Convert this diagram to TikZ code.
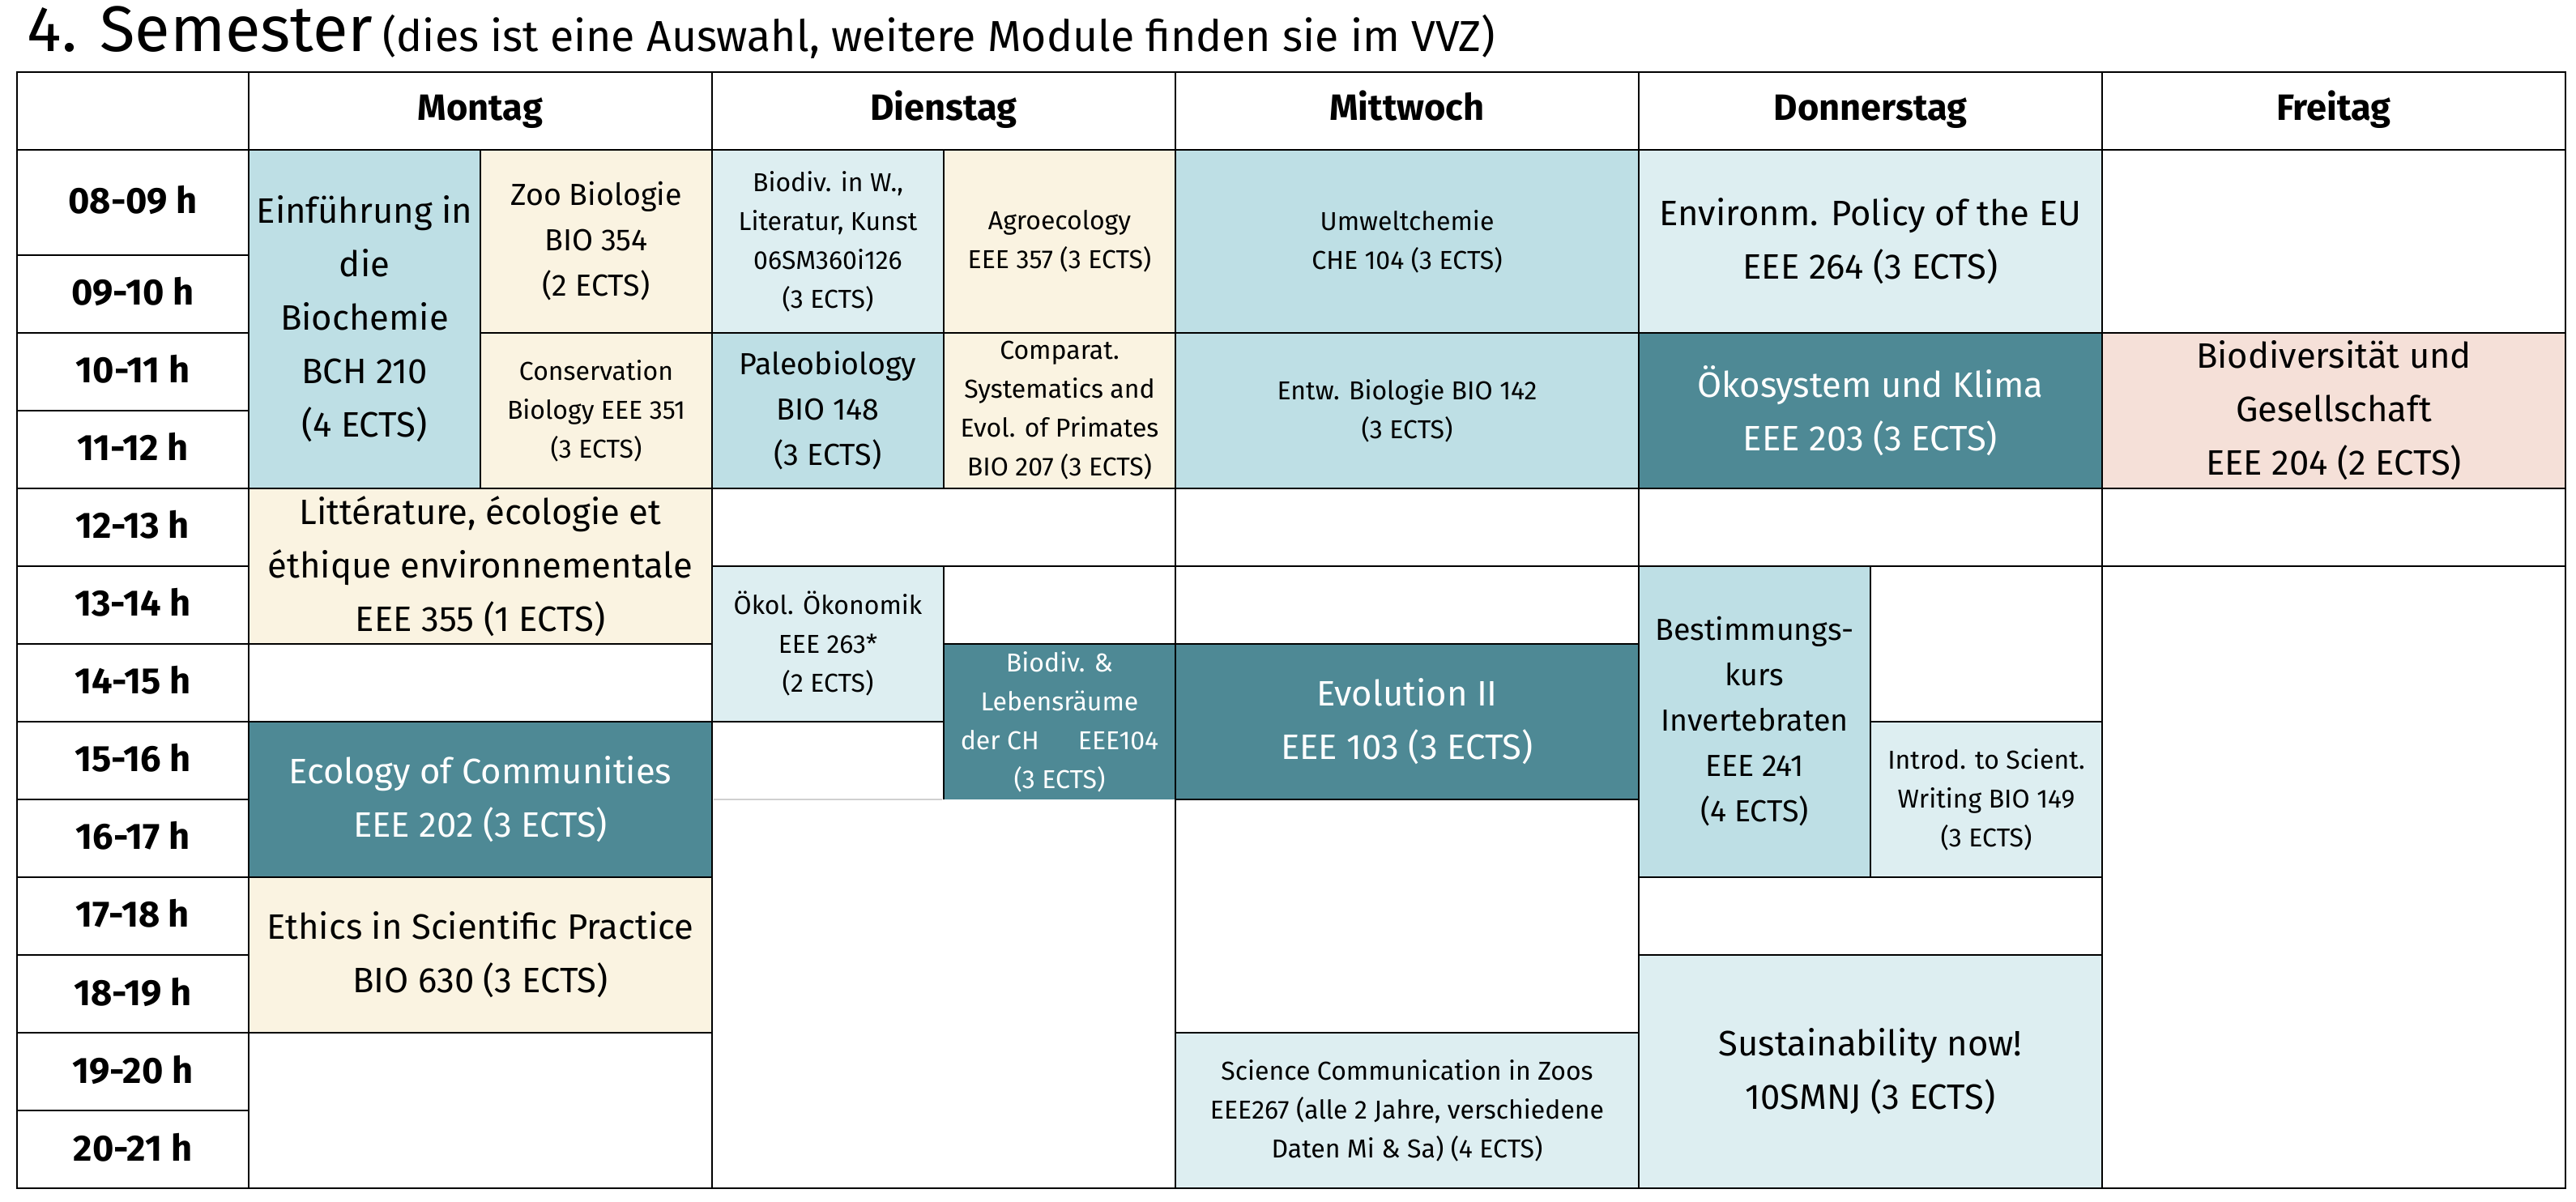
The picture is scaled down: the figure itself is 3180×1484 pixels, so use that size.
\documentclass[tikz,border=0pt]{standalone}
\usepackage{fontspec}
\setmainfont{Fira Sans}
\definecolor{lb}{HTML}{BEDFE5}
\definecolor{vlb}{HTML}{DDEEF1}
\definecolor{bg}{HTML}{FAF3E1}
\definecolor{teal}{HTML}{4E8995}
\definecolor{pk}{HTML}{F5E0D8}
\definecolor{gl}{HTML}{D0D0D0}
\newcommand\course[8]{\fill[#6] (#2,#3) rectangle (#4,#5);
  \node[#7] (#1) at ({(#2+#4)/2},{(#3+#5)/2}) {#8};}
\begin{document}
\begin{tikzpicture}[x=0.25pt,y=-0.25pt,
  txt/.style={align=center, inner sep=0pt, text=black},
  L/.style={txt, font=\fontsize{10.9pt}{16.5pt}\selectfont},
  M/.style={txt, font=\fontsize{9.4pt}{14pt}\selectfont},
  S/.style={txt, font=\fontsize{8pt}{12pt}\selectfont},
  W/.style={text=white},
  hd/.style={txt, anchor=base, font=\fontsize{11.3pt}{14pt}\selectfont\bfseries},
  grid/.style={draw=black, line width=0.65pt},
  faint/.style={draw=gl, line width=0.65pt}]
\useasboundingbox (0,0) rectangle (3180,1484);
\fill[white] (0,0) rectangle (3180,1484);
% title
\node[anchor=base west, inner sep=0pt] (title) at (33,64) {\fontsize{19.9pt}{24pt}\selectfont 4. Semester\hspace{3pt}\fontsize{13.4pt}{16pt}\selectfont(dies ist eine Auswahl, weitere Module finden sie im VVZ)};
% Montag
\course{einf}{307}{185}{593}{603}{lb}{L}{Einführung in\\die\\Biochemie\\BCH 210\\(4 ECTS)}
\course{zoo}{593}{185}{879}{411}{bg}{M}{Zoo Biologie\\BIO 354\\(2 ECTS)}
\course{cons}{593}{411}{879}{603}{bg}{S}{Conservation\\Biology EEE 351\\(3 ECTS)}
\course{litt}{307}{603}{879}{795}{bg}{L}{Littérature, écologie et\\éthique environnementale\\EEE 355 (1 ECTS)}
\course{ecol}{307}{891}{879}{1083}{teal}{L,W}{Ecology of Communities\\EEE 202 (3 ECTS)}
\course{ethics}{307}{1083}{879}{1275}{bg}{L}{Ethics in Scientific Practice\\BIO 630 (3 ECTS)}
% Dienstag
\course{biodivw}{879}{185}{1165}{411}{vlb}{S}{Biodiv. in W.,\\Literatur, Kunst\\06SM360i126\\(3 ECTS)}
\course{agro}{1165}{185}{1451}{411}{bg}{S}{Agroecology\\EEE 357 (3 ECTS)}
\course{paleo}{879}{411}{1165}{603}{lb}{M}{Paleobiology\\BIO 148\\(3 ECTS)}
\course{compar}{1165}{411}{1451}{603}{bg}{S}{Comparat.\\Systematics and\\Evol. of Primates\\BIO 207 (3 ECTS)}
\course{oekol}{879}{699}{1165}{891}{vlb}{S}{Ökol. Ökonomik\\EEE 263*\\(2 ECTS)}
\course{biodivch}{1165}{795}{1451}{987}{teal}{S,W}{Biodiv. \&\\Lebensräume\\der CH\hspace{12pt}EEE104\\(3 ECTS)}
% Mittwoch
\course{umwelt}{1451}{185}{2023}{411}{lb}{S}{Umweltchemie\\CHE 104 (3 ECTS)}
\course{entw}{1451}{411}{2023}{603}{lb}{S}{Entw. Biologie BIO 142\\(3 ECTS)}
\course{evol}{1451}{795}{2023}{987}{teal}{L,W}{Evolution II\\EEE 103 (3 ECTS)}
\course{scicomm}{1451}{1275}{2023}{1467}{vlb}{S}{Science Communication in Zoos\\EEE267 (alle 2 Jahre, verschiedene\\Daten Mi \& Sa) (4 ECTS)}
% Donnerstag
\course{envpol}{2023}{185}{2595}{411}{vlb}{L}{Environm. Policy of the EU\\EEE 264 (3 ECTS)}
\course{oeko}{2023}{411}{2595}{603}{teal}{L,W}{Ökosystem und Klima\\EEE 203 (3 ECTS)}
\course{bestim}{2023}{699}{2309}{1083}{lb}{M}{Bestimmungs-\\kurs\\Invertebraten\\EEE 241\\(4 ECTS)}
\course{introd}{2309}{891}{2595}{1083}{vlb}{S}{Introd. to Scient.\\Writing BIO 149\\(3 ECTS)}
\course{sust}{2023}{1179}{2595}{1467}{vlb}{L}{Sustainability now!\\10SMNJ (3 ECTS)}
% Freitag
\course{biodivges}{2595}{411}{3167}{603}{pk}{L}{Biodiversität und\\Gesellschaft\\EEE 204 (2 ECTS)}
% grid lines
\draw[grid] (21,89) rectangle (3167,1467);
\foreach \x in {307,879,1451,2023,2595} \draw[grid] (\x,89) -- (\x,1467);
\draw[grid] (21,185) -- (3167,185);
\foreach \y in {315,411,507,603,699,795,891,987,1083,1179,1275,1371} \draw[grid] (21,\y) -- (307,\y);
\draw[grid] (593,185) -- (593,603);
\draw[grid] (1165,185) -- (1165,603);
\draw[grid] (593,411) -- (3167,411);
\draw[grid] (307,603) -- (3167,603);
\draw[grid] (879,699) -- (3167,699);
\draw[grid] (307,795) -- (879,795);
\draw[grid] (1165,795) -- (2023,795);
\draw[grid] (1165,699) -- (1165,987);
\draw[grid] (307,891) -- (1165,891);
\draw[grid] (2309,891) -- (2595,891);
\draw[faint] (881,987) -- (1163,987);
\draw[grid] (1451,987) -- (2023,987);
\draw[grid] (307,1083) -- (879,1083);
\draw[grid] (2023,1083) -- (2595,1083);
\draw[grid] (2309,699) -- (2309,1083);
\draw[grid] (2023,1179) -- (2595,1179);
\draw[grid] (307,1275) -- (879,1275);
\draw[grid] (1451,1275) -- (2023,1275);
% headers
\node[hd] (hmo) at (593,149) {Montag};
\node[hd] (hdi) at (1165,149) {Dienstag};
\node[hd] (hmi) at (1737,149) {Mittwoch};
\node[hd] (hdo) at (2309,149) {Donnerstag};
\node[hd] (hfr) at (2881,149) {Freitag};
% times
\node[hd] (t08) at (164,264) {08-09 h};
\node[hd] (t09) at (164,377) {09-10 h};
\node[hd] (t10) at (164,473) {10-11 h};
\node[hd] (t11) at (164,569) {11-12 h};
\node[hd] (t12) at (164,665) {12-13 h};
\node[hd] (t13) at (164,761) {13-14 h};
\node[hd] (t14) at (164,857) {14-15 h};
\node[hd] (t15) at (164,953) {15-16 h};
\node[hd] (t16) at (164,1049) {16-17 h};
\node[hd] (t17) at (164,1145) {17-18 h};
\node[hd] (t18) at (164,1241) {18-19 h};
\node[hd] (t19) at (164,1337) {19-20 h};
\node[hd] (t20) at (164,1433) {20-21 h};
\end{tikzpicture}
\end{document}
